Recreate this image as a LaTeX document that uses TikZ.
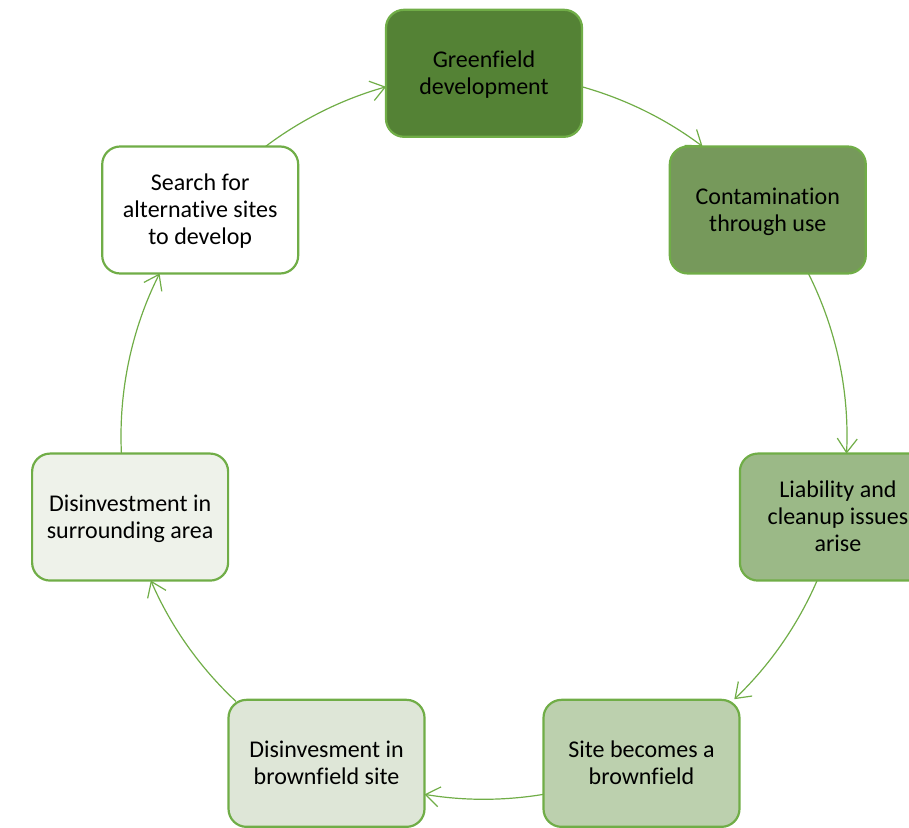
\documentclass[tikz,border=0pt]{standalone}
\usepackage{fontspec}
\setmainfont{Carlito}[Ligatures=NoCommon]
\usetikzlibrary{arrows.meta}

\definecolor{edgegreen}{HTML}{70AD47}
\definecolor{linkgreen}{HTML}{70AD47}
\definecolor{shadeA}{HTML}{548235}
\definecolor{shadeB}{HTML}{76995B}
\definecolor{shadeC}{HTML}{9BB987}
\definecolor{shadeD}{HTML}{BCD0AE}
\definecolor{shadeE}{HTML}{DEE6D7}
\definecolor{shadeF}{HTML}{EEF2EA}
\definecolor{shadeG}{HTML}{FFFFFF}

% centred lines of a stage label, set slightly below the box centre
\newcommand\stagetext[1]{\raisebox{-2.35pt}[\height][\depth]{\begin{tabular}{@{}c@{}}#1\end{tabular}}}

\begin{document}
\begin{tikzpicture}[x=1pt,y=1pt,
  stage/.style={draw=edgegreen, line width=2.2pt, rounded corners=18pt,
    minimum width=196pt, minimum height=127pt, inner sep=0pt, outer sep=0pt,
    text=black, font=\fontsize{24}{27}\selectfont},
  conn/.style={draw=linkgreen, line width=1.2pt,
    -{Straight Barb[length=14pt,width=20pt]}}]
\useasboundingbox (0,0) rectangle (909,-827);
\clip (0,0) rectangle (909,-827);

% centre of the cycle; stages sit on a circle of radius 363pt
\coordinate (O) at (484,-436.3);

\node[stage, fill=shadeA] (green)   at ([shift={(90:363pt)}]O)      {\stagetext{Greenfield\\development}};
\node[stage, fill=shadeB] (contam)  at ([shift={(38.571:363pt)}]O)  {\stagetext{Contamination\\through use}};
\node[stage, fill=shadeC] (liab)    at ([shift={(-12.857:363pt)}]O) {\stagetext{Liability and\\cleanup issues\\arise}};
\node[stage, fill=shadeD] (site)    at ([shift={(-64.286:363pt)}]O) {\stagetext{Site becomes a\\brownfield}};
\node[stage, fill=shadeE] (disbf)   at ([shift={(-115.714:363pt)}]O){\stagetext{Disinvesment in\\brownfield site}};
\node[stage, fill=shadeF] (disarea) at ([shift={(-167.143:363pt)}]O){\stagetext{Disinvestment in\\surrounding area}};
\node[stage, fill=shadeG] (search)  at ([shift={(141.429:363pt)}]O) {\stagetext{Search for\\alternative sites\\to develop}};

% arcs of the cycle, each leaving one stage and ending at the next
\draw[conn] ([yshift=-13.5pt]green.east)   arc[start angle=74.34,  end angle=52.98,   radius=363pt];
\draw[conn] ([xshift=40.6pt]contam.south)  arc[start angle=26.65,  end angle=-2.73,   radius=363pt];
\draw[conn] ([xshift=-20.8pt]liab.south)   arc[start angle=-23.42, end angle=-46.4,   radius=363pt];
\draw[conn] ([yshift=-31.0pt]site.west)    arc[start angle=-80.57, end angle=-99.43,  radius=363pt];
\draw[conn] ([xshift=-90.6pt,yshift=-1.5pt]disbf.north) arc[start angle=-133.1, end angle=-156.58, radius=363pt];
\draw[conn] ([xshift=-8.7pt]disarea.north) arc[start angle=182.73, end angle=153.35,  radius=363pt];
\draw[conn] ([xshift=65.3pt]search.north)  arc[start angle=127.02, end angle=105.66,  radius=363pt];
\end{tikzpicture}
\end{document}
